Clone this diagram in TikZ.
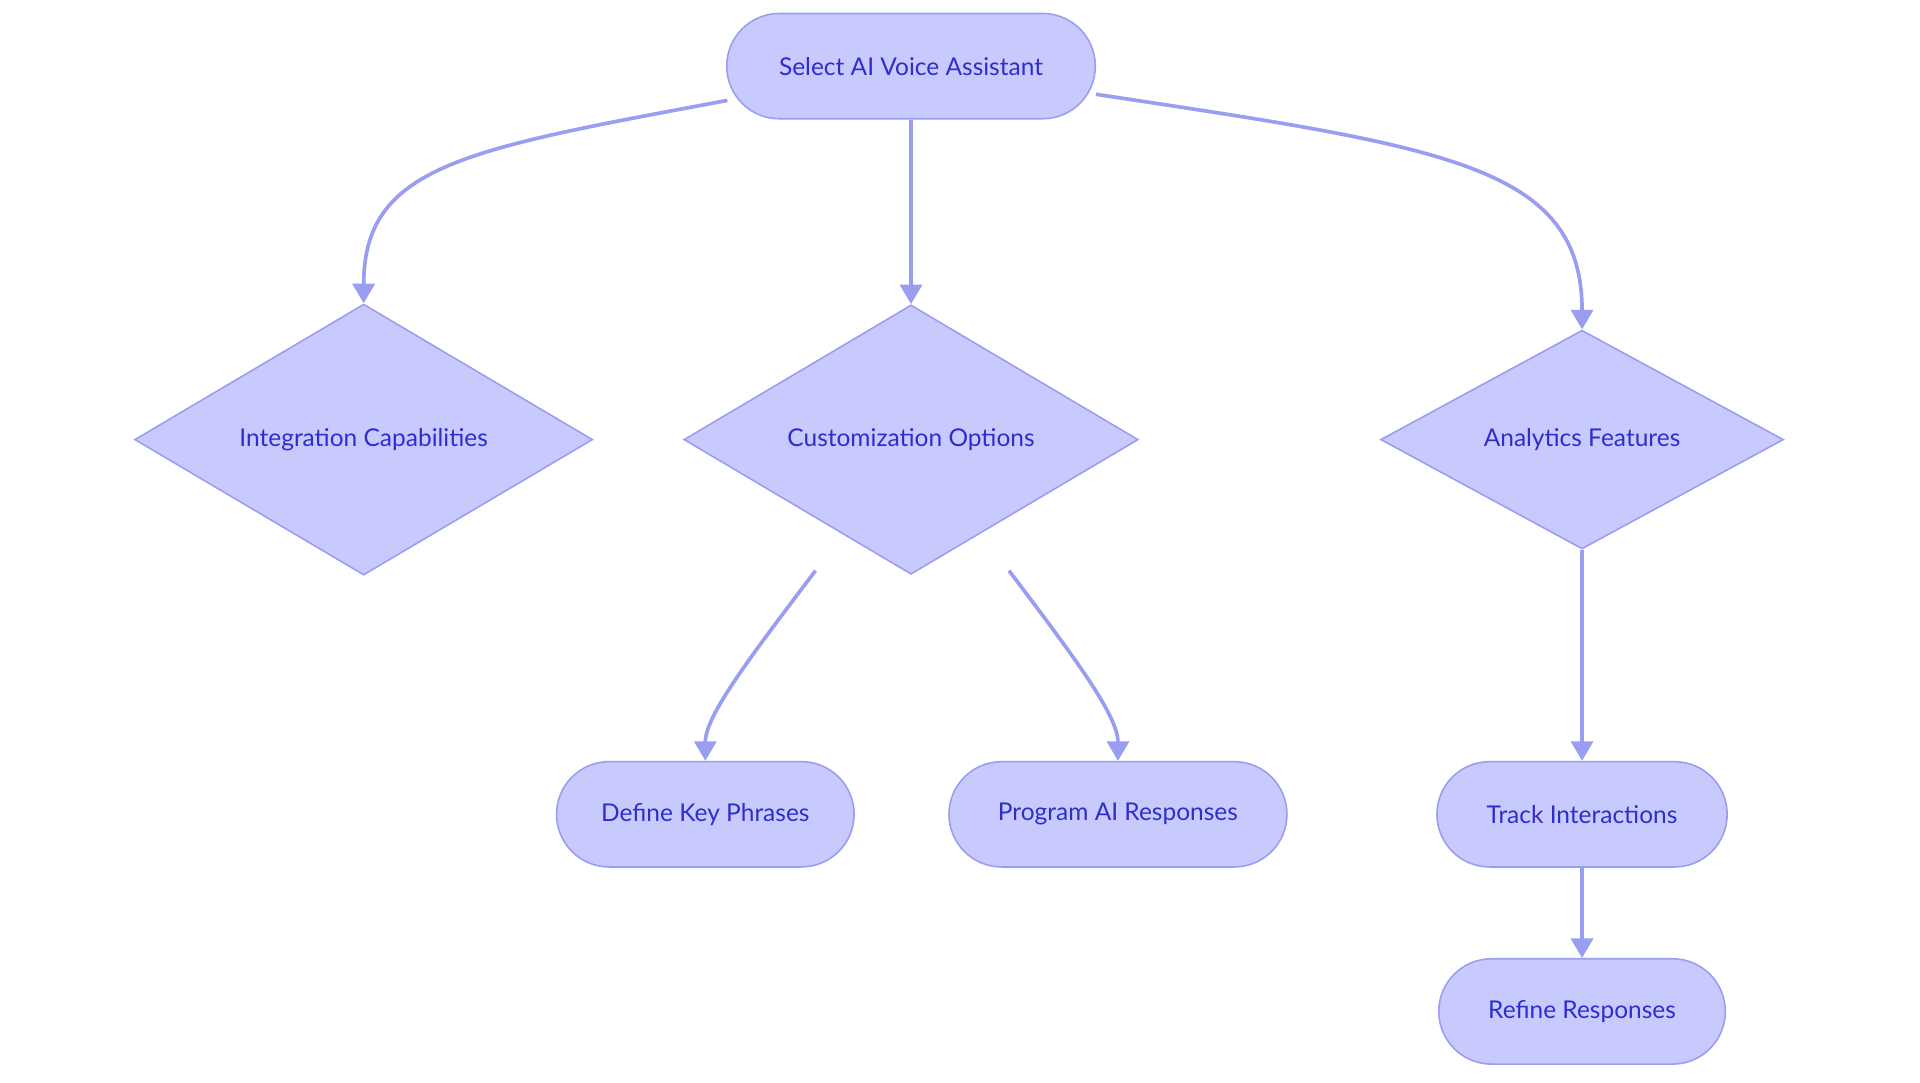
\documentclass[tikz,border=0pt]{standalone}
\usepackage{fontspec}
\setmainfont{Lato}
\usetikzlibrary{shapes.misc,shapes.geometric,arrows.meta}
\definecolor{fillc}{HTML}{C8CAFD}
\definecolor{linec}{HTML}{9A9EF0}
\definecolor{txt}{HTML}{2E2ECC}
\begin{document}
\begin{tikzpicture}[x=1pt,y=-1pt,
  font=\fontsize{20}{24}\selectfont,
  box/.style={rounded rectangle,draw=linec,fill=fillc,text=txt,line width=1.3pt,minimum height=86pt,inner sep=0pt},
  dia/.style={diamond,draw=linec,fill=fillc,text=txt,line width=1.3pt,inner sep=0pt,aspect=1},
  edge/.style={draw=linec,line width=3pt,-{Triangle[length=16pt,width=18pt]}}]
\useasboundingbox (0,0) rectangle (1568,884);
\node[box,minimum width=301pt] (top) at (744,54) {Select AI Voice Assistant};
\node[dia,minimum width=374pt] (int) at (297,359) {Integration Capabilities};
\node[dia,minimum width=371pt] (cus) at (744,359) {Customization Options};
\node[dia,minimum width=329pt] (ana) at (1292,359) {Analytics Features};
\node[box,minimum width=243pt] (def) at (576,665) {Define Key Phrases};
\node[box,minimum width=276pt] (pro) at (913,665) {Program AI Responses};
\node[box,minimum width=237pt] (tra) at (1292,665) {Track Interactions};
\node[box,minimum width=234pt] (ref) at (1292,826) {Refine Responses};
\coordinate (s1) at (594,82);
\coordinate (s2) at (895,77);
\coordinate (c1) at (666,466);
\coordinate (c2) at (824,466);
\draw[edge] (s1) .. controls (380,122) and (297,135) .. (int.north);
\draw[edge] (top.south) -- (cus.north);
\draw[edge] (s2) .. controls (1180,120) and (1292,135) .. (ana.north);
\draw[edge] (c1) .. controls (610,540) and (576,585) .. (def.north);
\draw[edge] (c2) .. controls (880,540) and (913,585) .. (pro.north);
\draw[edge] (ana.south) -- (tra.north);
\draw[edge] (tra.south) -- (ref.north);
\end{tikzpicture}
\end{document}
